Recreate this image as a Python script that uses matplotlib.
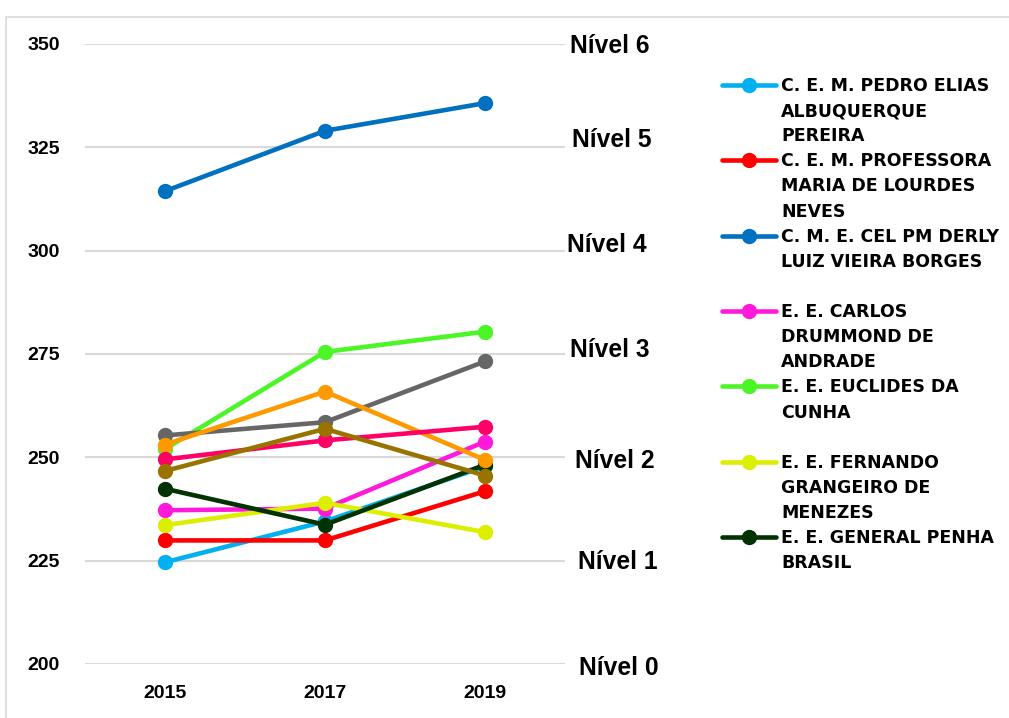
import matplotlib
matplotlib.use("Agg")
import matplotlib.pyplot as plt
from matplotlib.lines import Line2D
from matplotlib.patches import Rectangle

years = ["2015", "2017", "2019"]

names = [
    "C. E. M. PEDRO ELIAS ALBUQUERQUE PEREIRA",
    "C. E. M. PROFESSORA MARIA DE LOURDES NEVES",
    "C. M. E. CEL PM DERLY LUIZ VIEIRA BORGES",
    "E. E. CARLOS DRUMMOND DE ANDRADE",
    "E. E. EUCLIDES DA CUNHA",
    "E. E. FERNANDO GRANGEIRO DE MENEZES",
    "E. E. GENERAL PENHA BRASIL",
    "Escola 8",
    "Escola 9",
    "Escola 10",
    "Escola 11",
]

pedro_elias = [224.6, 234.5, 247.8]
maria_lourdes = [229.9, 229.9, 241.8]
derly = [314.4, 329.0, 335.7]
carlos_drummond = [237.2, 237.6, 253.8]
euclides = [252.0, 275.5, 280.4]
fernando = [233.6, 239.0, 231.9]
penha_brasil = [242.4, 233.7, 248.2]
escola8 = [255.3, 258.5, 273.2]
escola9 = [253.1, 265.9, 249.4]
escola10 = [249.5, 254.1, 257.4]
escola11 = [246.7, 256.9, 245.6]

series = [pedro_elias, maria_lourdes, derly, carlos_drummond, euclides,
          fernando, penha_brasil, escola8, escola9, escola10, escola11]
colors = ["#00B0F0", "#FF0000", "#0070C0", "#FF1ADB", "#4CF526",
          "#DCEF00", "#013201", "#666666", "#FF9900", "#FF0066", "#997300"]

legend_lines = [
    ["C. E. M. PEDRO ELIAS", "ALBUQUERQUE", "PEREIRA"],
    ["C. E. M. PROFESSORA", "MARIA DE LOURDES", "NEVES"],
    ["C. M. E. CEL PM DERLY", "LUIZ VIEIRA BORGES", " "],
    ["E. E. CARLOS", "DRUMMOND DE", "ANDRADE"],
    ["E. E. EUCLIDES DA", "CUNHA", " "],
    ["E. E. FERNANDO", "GRANGEIRO DE", "MENEZES"],
    ["E. E. GENERAL PENHA", "BRASIL"],
]

level_labels = ["Nível 6", "Nível 5", "Nível 4", "Nível 3", "Nível 2", "Nível 1", "Nível 0"]
level_y = [349.6, 326.8, 301.4, 276.0, 249.1, 224.7, 199.0]
level_x = [2.780, 2.793, 2.762, 2.780, 2.811, 2.830, 2.836]

yticks = [200, 225, 250, 275, 300, 325, 350]

W, H = 1009, 718
fig = plt.figure(figsize=(W / 100, H / 100), dpi=100)
fig.patch.set_facecolor("white")

# outer chart border
fig.patches.append(Rectangle((6 / W, -0.05), 1.2, 1 - 17 / H + 0.05,
                             transform=fig.transFigure, fill=False,
                             edgecolor="#D9D9D9", linewidth=1.2))

ax = fig.add_axes([85 / W, 54 / H, 480 / W, 620 / H])
x = list(range(len(years)))
for vals, c, n in zip(series, colors, names):
    ax.plot(x, vals, color=c, linewidth=3.3, marker="o", markersize=10,
            label=n, solid_capstyle="round", zorder=3)

ax.set_xlim(-0.5, 2.5)
ax.set_ylim(200, 350)
ax.set_yticks(yticks)
ax.set_xticks(x)
ax.set_xticklabels(years)
for s in ax.spines.values():
    s.set_visible(False)
ax.grid(axis="y", color="#D9D9D9", linewidth=1.5, zorder=0)
ax.tick_params(axis="both", length=0, labelsize=14)
ax.tick_params(axis="y", pad=18)
ax.tick_params(axis="x", pad=15)
for lab in ax.get_xticklabels() + ax.get_yticklabels():
    lab.set_fontfamily("Liberation Sans")
    lab.set_fontweight("bold")

for lx, ly, lt in zip(level_x, level_y, level_labels):
    ax.text(lx, ly, lt, ha="center", va="center", fontsize=17.7,
            fontweight="bold", family="Liberation Sans", clip_on=False)

# legend: one entry per text line, handle on the first line of each school
handles, labels = [], []
for c, lines in zip(colors, legend_lines):
    handles.append(Line2D([], [], color=c, linewidth=3.3, marker="o",
                          markersize=10, solid_capstyle="round"))
    labels.append(lines[0])
    for extra in lines[1:]:
        handles.append(Line2D([], [], linestyle="none"))
        labels.append(extra)

leg = fig.legend(handles, labels, loc="upper left",
                 bbox_to_anchor=(722 / W, 1 - 77 / H),
                 frameon=False, borderpad=0, borderaxespad=0,
                 handlelength=3.1, handletextpad=0.3, labelspacing=0.41,
                 prop={"family": "DejaVu Sans", "weight": "bold", "size": 12.5})

fig.savefig("out.png", dpi=100, facecolor="white")
